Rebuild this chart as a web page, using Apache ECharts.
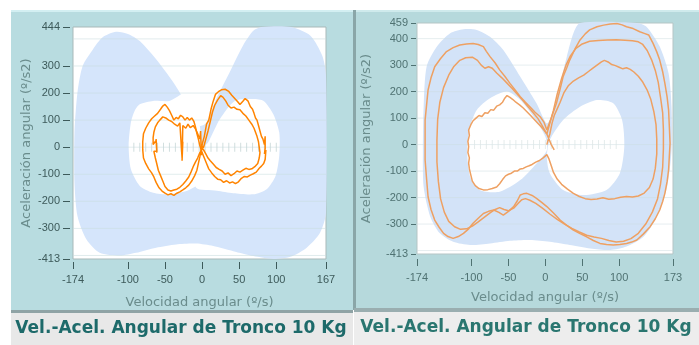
<!DOCTYPE html>
<html>
<head>
<meta charset="utf-8">
<script src="https://cdn.jsdelivr.net/npm/echarts@6/dist/echarts.min.js"></script>
<style>
html, body { margin: 0; padding: 0; background: #fff; }
#main { width: 699px; height: 345px; }
</style>
</head>
<body>
<div id="main"></div>
<script>
// ejes
var xTicksL = [-174, -100, -50, 0, 50, 100, 167];
var yTicksL = [-413, -300, -200, -100, 0, 100, 200, 300, 444];
var xTicksR = [-174, -100, -50, 0, 50, 100, 173];
var yTicksR = [-413, -300, -200, -100, 0, 100, 200, 300, 400, 459];
var gridLinesY = [-400, -300, -200, -100, 0, 100, 200, 300, 400];
var zeroMarksL = [-92, -84, -76, -68, -60, -52, -44, -36, -28, -20, -12, -4, 4, 12, 20, 28, 36, 44, 52, 60, 68, 76, 84, 92, 100];
var zeroMarksR = [-96, -88, -80, -72, -64, -56, -48, -40, -32, -24, -16, -8, 0, 8, 16, 24, 32, 40, 48, 56, 64, 72, 80, 88, 96];

// zona de referencia (azul) y huecos
var blueOuterL = [[-161,300],[-147,362],[-134,406],[-116,426],[-100,418],[-84,392],[-60,318],[-36,228],[-17,140],[-3,79],
  [6,91],[19,178],[37,276],[55,375],[69,430],[80,444],[120,444],[146,412],[162,338],[167,264],[167,-242],[159,-316],
  [141,-371],[119,-405],[96,-413],[69,-402],[42,-384],[15,-365],[-8,-356],[-35,-359],[-62,-371],[-89,-390],[-111,-400],
  [-138,-390],[-156,-340],[-168,-254],[-172,-131],[-172,54],[-168,202]];
var holeL1 = [[-84,159],[-66,171],[-44,171],[-22,200],[-10,130],[-3,79],[-2,10],[6,-40],[16,-150],[-3,-140],[-21,-162],
  [-44,-174],[-66,-168],[-84,-143],[-96,-81],[-99,5],[-96,91],[-91,134]];
var holeL2 = [[8,17],[24,104],[44,171],[69,178],[83,171],[96,122],[104,54],[104,-32],[99,-106],[87,-155],[69,-174],
  [42,-170],[20,-161],[-8,-150],[-6,-70],[0,-5]];

var blueOuterR = [[-161,294],[-147,370],[-129,420],[-111,435],[-93,433],[-75,407],[-57,357],[-34,256],[-12,156],[2,80],
  [11,131],[20,231],[29,332],[38,420],[47,459],[124,459],[137,445],[155,370],[167,269],[171,143],[171,-21],[165,-159],
  [151,-272],[133,-348],[110,-385],[88,-398],[61,-392],[33,-379],[6,-367],[-21,-360],[-48,-363],[-75,-373],[-102,-379],
  [-125,-367],[-143,-335],[-156,-272],[-165,-159],[-166,-21],[-165,143]];
var holeR1 = [[-102,68],[-93,131],[-75,175],[-52,200],[-34,168],[-16,105],[0,30],[2,-21],[-12,-71],[-34,-134],[-62,-178],
  [-89,-171],[-102,-121],[-106,-21]];
var holeR2 = [[6,17],[24,93],[47,143],[70,168],[92,156],[104,93],[107,-6],[101,-108],[83,-171],[52,-190],[24,-171],
  [6,-108],[2,-46]];

// trazos izquierda
var traceL1 = [[0,10],[3,40],[6,85],[9,100],[12,140],[15,170],[18,195],[22,205],[26,212],[31,214],[36,206],[40,192],[44,180],
  [48,168],[51,158],[55,170],[58,180],[62,170],[65,150],[68,140],[70,125],[72,108],[74,100],[76,80],[78,60],[80,40],[82,30],
  [84,10],[85,40],[85,-5],[84,-25],[86,-10],[85,-45],[83,-60],[80,-70],[77,-78],[73,-92],[69,-98],[65,-103],[61,-110],[57,-108],[53,-115],
  [49,-128],[45,-135],[41,-128],[37,-132],[33,-124],[29,-130],[25,-120],[21,-118],[17,-108],[13,-95],[9,-80],[6,-60],
  [3,-40],[0,-20],[-3,5],[-5,30],[-7,50],[-9,75],[-11,95],[-14,108],[-17,100],[-20,110],[-23,100],[-26,112],[-29,118],
  [-32,105],[-35,110],[-38,100],[-41,118],[-44,135],[-47,148],[-50,158],[-53,152],[-56,140],[-60,125],[-64,115],[-68,105],
  [-72,90],[-76,70],[-79,50],[-80,20],[-80,-10],[-79,-40],[-76,-60],[-72,-80],[-68,-95],[-65,-110],[-62,-130],[-58,-150],
  [-54,-162],[-50,-170],[-46,-176],[-42,-172],[-38,-178],[-34,-170],[-30,-165],[-26,-158],[-22,-150],[-18,-140],[-14,-125],
  [-10,-105],[-7,-85],[-5,-60],[-3,-35],[0,10]];
var traceL2 = [[2,0],[5,30],[8,60],[11,95],[14,130],[17,155],[21,175],[25,190],[28,185],[32,170],[35,155],[39,145],[43,148],
  [47,140],[51,138],[55,125],[59,115],[63,100],[67,85],[70,70],[72,55],[74,40],[76,20],[77,0],[78,-20],[77,-40],[75,-60],
  [71,-72],[67,-80],[63,-82],[59,-78],[55,-85],[51,-92],[47,-88],[43,-98],[39,-105],[35,-95],[31,-100],[27,-88],[23,-82],
  [19,-75],[15,-62],[11,-50],[8,-40],[5,-25],[2,-10],[-1,10],[-1,-30],[-2,60],[-3,30],[-6,50],[-9,68],[-12,80],[-16,72],
  [-19,85],[-22,70],[-26,80],[-27,-50],[-26,20],[-27,-40],[-30,90],[-33,78],[-37,85],[-41,95],[-45,100],[-49,108],
  [-53,112],[-57,100],[-60,90],[-63,75],[-65,55],[-66,35],[-66,10],[-62,25],[-61,-20],[-62,30],[-61,-15],[-65,-15],
  [-63,-40],[-61,-62],[-59,-85],[-56,-105],[-53,-125],[-50,-145],[-46,-158],[-42,-162],[-38,-158],[-34,-155],[-30,-148],
  [-26,-138],[-22,-125],[-18,-110],[-15,-92],[-12,-72],[-9,-55],[-6,-40],[-3,-20],[2,0]];

// trazos derecha
var traceRA = [[2,55],[8,100],[15,156],[20,210],[24,256],[29,290],[33,319],[40,360],[47,395],[54,418],[60,433],[70,445],
  [79,451],[88,455],[97,457],[104,452],[110,445],[119,438],[128,426],[134,420],[140,414],[146,382],[151,350],[155,319],
  [159,275],[162,231],[165,180],[167,131],[168,70],[169,5],[168,-45],[167,-96],[165,-140],[162,-184],[159,-215],[155,-247],
  [149,-280],[142,-310],[133,-337],[124,-360],[117,-368],[110,-373],[101,-377],[92,-379],[83,-377],[74,-373],[65,-362],
  [56,-348],[47,-336],[38,-323],[29,-305],[20,-285],[11,-258],[2,-234],[-5,-218],[-12,-203],[-18,-192],[-25,-184],
  [-30,-186],[-34,-190],[-38,-212],[-43,-234],[-50,-252],[-57,-266],[-63,-256],[-70,-247],[-77,-252],[-84,-260],[-91,-278],
  [-98,-297],[-104,-318],[-111,-335],[-118,-347],[-125,-354],[-132,-347],[-138,-335],[-144,-312],[-150,-285],[-155,-245],
  [-159,-197],[-161,-130],[-163,-58],[-163,20],[-163,93],[-161,150],[-159,206],[-155,252],[-150,294],[-142,325],[-134,351],
  [-125,366],[-116,376],[-107,380],[-98,382],[-91,378],[-84,370],[-80,352],[-75,332],[-68,308],[-62,282],[-55,258],
  [-48,231],[-41,206],[-34,181],[-27,160],[-21,143],[-14,122],[-7,105],[-2,85],[2,55]];
var traceRB = [[2,40],[7,90],[11,130],[16,190],[22,250],[28,300],[34,335],[41,362],[50,380],[60,390],[72,393],[84,395],
  [96,396],[108,394],[118,392],[126,388],[132,378],[138,355],[144,320],[149,280],[153,235],[156,180],[159,120],[160,55],
  [160,-15],[159,-85],[156,-150],[152,-205],[145,-255],[136,-300],[126,-335],[116,-355],[106,-365],[96,-368],[86,-362],
  [76,-354],[66,-349],[56,-342],[46,-330],[36,-316],[26,-300],[16,-282],[6,-262],[-4,-240],[-13,-222],[-21,-210],
  [-27,-204],[-32,-208],[-37,-222],[-43,-240],[-50,-250],[-56,-245],[-62,-238],[-68,-245],[-75,-258],[-83,-275],[-91,-292],
  [-99,-308],[-107,-318],[-115,-320],[-123,-310],[-131,-290],[-137,-255],[-142,-205],[-145,-140],[-147,-65],[-147,15],
  [-146,95],[-143,160],[-138,215],[-131,262],[-124,295],[-116,318],[-108,328],[-99,330],[-92,318],[-87,300],[-82,288],
  [-77,294],[-72,288],[-66,270],[-59,252],[-52,232],[-45,212],[-38,190],[-31,168],[-24,145],[-17,122],[-10,98],[-4,70],[2,40]];
var traceRC = [[2,0],[6,40],[9,80],[12,110],[16,135],[20,160],[25,195],[31,222],[38,240],[45,252],[52,262],[58,275],
  [64,288],[70,300],[76,312],[80,318],[85,312],[90,302],[95,298],[100,292],[105,286],[110,290],[115,284],[120,274],
  [126,258],[132,236],[138,206],[143,170],[147,125],[150,75],[151,20],[151,-35],[149,-90],[146,-130],[141,-162],[134,-183],
  [126,-194],[118,-198],[110,-196],[102,-199],[94,-204],[86,-206],[78,-201],[70,-205],[62,-207],[54,-204],[46,-196],
  [38,-184],[30,-168],[22,-150],[16,-130],[11,-105],[8,-80],[5,-55],[2,-38],[-3,-50],[-8,-60],[-13,-66],[-18,-75],
  [-22,-80],[-26,-84],[-30,-90],[-34,-92],[-38,-100],[-42,-100],[-46,-108],[-50,-112],[-54,-118],[-58,-132],[-62,-148],
  [-66,-160],[-72,-166],[-78,-170],[-84,-171],[-90,-166],[-95,-155],[-99,-138],[-101,-115],[-103,-92],[-104,-70],
  [-103,-50],[-105,-30],[-104,-8],[-105,12],[-103,35],[-104,55],[-101,75],[-98,90],[-94,100],[-90,110],[-86,106],
  [-82,120],[-78,118],[-74,132],[-70,130],[-66,145],[-62,150],[-58,160],[-55,175],[-52,185],[-48,178],[-44,170],
  [-40,160],[-35,150],[-30,138],[-25,124],[-20,110],[-15,95],[-10,80],[-6,68],[-2,55],[2,40],[5,20],[8,0],[12,-20]];

var chart = echarts.init(document.getElementById('main'));

function shape(pts, color, gi, z) {
    return {
        type: 'custom', xAxisIndex: gi, yAxisIndex: gi, z: z, silent: true,
        data: [pts[0]],
        renderItem: function (params, api) {
            return {
                type: 'polygon',
                shape: { points: pts.map(function (p) { return api.coord(p); }), smooth: 0.25 },
                style: { fill: color }
            };
        }
    };
}

function hLines(gi, color) {
    return {
        type: 'custom', xAxisIndex: gi, yAxisIndex: gi, z: 4, silent: true,
        data: gridLinesY.map(function (v) { return [0, v]; }),
        renderItem: function (params, api) {
            var p = api.coord([0, api.value(1)]);
            var cs = params.coordSys;
            return { type: 'line', shape: { x1: cs.x, y1: p[1], x2: cs.x + cs.width, y2: p[1] }, style: { stroke: color, lineWidth: 1 } };
        }
    };
}

function marks(xs, gi, color) {
    return {
        type: 'scatter', xAxisIndex: gi, yAxisIndex: gi, z: 4, silent: true,
        symbol: 'rect', symbolSize: [1, 9],
        itemStyle: { color: color },
        data: xs.map(function (x) { return [x, 0]; })
    };
}

function trace(data, gi, color, w) {
    return {
        type: 'line', xAxisIndex: gi, yAxisIndex: gi, z: 6, silent: true,
        showSymbol: false, symbol: 'none',
        lineStyle: { color: color, width: w },
        data: data
    };
}

var tickFont = 'Liberation Sans Narrow, Liberation Sans, sans-serif';

function xAx(gi, min, max, ticks, off, margin, gap, col) {
    return {
        gridIndex: gi, type: 'value', min: min, max: max, offset: off,
        axisLine: { show: true, onZero: false, lineStyle: { color: 'rgba(0,0,0,0)' } },
        axisTick: { show: true, length: 7, customValues: ticks, lineStyle: { color: col } },
        axisLabel: { customValues: ticks, color: col, fontSize: 11, margin: margin, fontFamily: tickFont },
        splitLine: { show: false },
        name: 'Velocidad angular (º/s)', nameLocation: 'middle', nameGap: gap,
        nameTextStyle: { color: '#6a8c8c', fontSize: 13, fontFamily: 'DejaVu Sans' }
    };
}

function yAx(gi, min, max, ticks, off, len, margin, gap, col) {
    return {
        gridIndex: gi, type: 'value', min: min, max: max, offset: off,
        axisLine: { show: true, onZero: false, lineStyle: { color: 'rgba(0,0,0,0)' } },
        axisTick: { show: true, length: len, customValues: ticks, lineStyle: { color: col } },
        axisLabel: { customValues: ticks, color: col, fontSize: 11, margin: margin, fontFamily: tickFont },
        splitLine: { show: false },
        name: 'Aceleración angular (º/s2)', nameLocation: 'middle', nameGap: gap,
        nameTextStyle: { color: '#6a8c8c', fontSize: 13, fontFamily: 'DejaVu Sans' }
    };
}

var titleText = 'Vel.-Acel. Angular de Tronco 10 Kg';

option = {
    animation: false,
    backgroundColor: '#ffffff',
    graphic: [
        { type: 'rect', z: -10, shape: { x: 11, y: 10, width: 342, height: 300 }, style: { fill: '#b8dce0' } },
        { type: 'rect', z: -9, shape: { x: 11, y: 10, width: 342, height: 2 }, style: { fill: '#d3eff2' } },
        { type: 'rect', z: -9, shape: { x: 11, y: 310, width: 342, height: 3 }, style: { fill: '#8fa3a5' } },
        { type: 'rect', z: -10, shape: { x: 11, y: 313, width: 342, height: 32 }, style: { fill: '#e8e8e8' } },
        { type: 'rect', z: -9, shape: { x: 353, y: 10, width: 3, height: 300 }, style: { fill: '#8aa6a8' } },
        { type: 'rect', z: -10, shape: { x: 356, y: 10, width: 343, height: 298 }, style: { fill: '#b6d9dc' } },
        { type: 'rect', z: -9, shape: { x: 356, y: 10, width: 343, height: 2 }, style: { fill: '#cfeaec' } },
        { type: 'rect', z: -9, shape: { x: 354, y: 308, width: 345, height: 4 }, style: { fill: '#9aaeb0' } },
        { type: 'rect', z: -10, shape: { x: 354, y: 312, width: 345, height: 33 }, style: { fill: '#ededed' } },
        { type: 'text', z: 10, x: 181, y: 329, style: { text: titleText, fill: '#1d6a6a', font: 'bold 17px DejaVu Sans', textAlign: 'center', textVerticalAlign: 'middle' } },
        { type: 'text', z: 10, x: 526, y: 328, style: { text: titleText, fill: '#2a7670', font: 'bold 17px DejaVu Sans', textAlign: 'center', textVerticalAlign: 'middle' } }
    ],
    grid: [
        { left: 73, top: 27, width: 253, height: 232, show: true, backgroundColor: '#ffffff', borderColor: '#a9b9b9', borderWidth: 1 },
        { left: 417, top: 23, width: 256, height: 231, show: true, backgroundColor: '#ffffff', borderColor: '#b5c5c5', borderWidth: 1 }
    ],
    xAxis: [
        xAx(0, -174, 167, xTicksL, 3, 12, 34, '#3d5a5a'),
        xAx(1, -174, 173, xTicksR, 5, 13, 32, '#4f7272')
    ],
    yAxis: [
        yAx(0, -413, 444, yTicksL, 3, 7, 10, 37, '#3d5a5a'),
        yAx(1, -413, 459, yTicksR, 1, 5, 8, 43, '#4f7272')
    ],
    series: [
        shape(blueOuterL, '#d5e5fb', 0, 1),
        shape(holeL1, '#ffffff', 0, 2),
        shape(holeL2, '#ffffff', 0, 2),
        hLines(0, 'rgba(200,220,222,0.55)'),
        marks(zeroMarksL, 0, '#c6d6d6'),
        trace(traceL1, 0, '#ff8400', 1.5),
        trace(traceL2, 0, '#ff8400', 1.5),
        shape(blueOuterR, '#d3e3f8', 1, 1),
        shape(holeR1, '#ffffff', 1, 2),
        shape(holeR2, '#ffffff', 1, 2),
        hLines(1, 'rgba(205,222,225,0.5)'),
        marks(zeroMarksR, 1, '#dde6e6'),
        trace(traceRA, 1, '#eea062', 1.5),
        trace(traceRB, 1, '#eea062', 1.5),
        trace(traceRC, 1, '#eea062', 1.5)
    ]
};
chart.setOption(option);
</script>
</body>
</html>
